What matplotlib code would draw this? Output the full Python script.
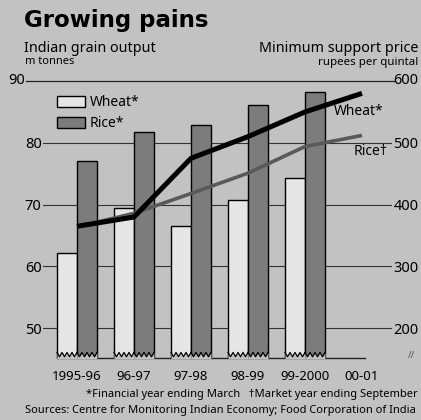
import numpy as np
import matplotlib.pyplot as plt

plt.rcParams['font.family'] = ['Noto Sans', 'DejaVu Sans']

years = ["1995-96", "96-97", "97-98", "98-99", "99-2000", "00-01"]
# grain output, m tonnes (no bars for 00-01)
wheat_output = [62.2, 69.5, 66.5, 70.8, 74.3]
rice_output = [77.0, 81.8, 82.9, 86.1, 88.3]
# minimum support price, rupees per quintal
wheat_price = [365, 380, 475, 510, 550, 580]
rice_price = [364, 386, 418, 451, 494, 512]

BG = "#c2c2c2"
WHEAT_BAR = "#e6e6e6"
RICE_BAR = "#7c7c7c"
Y_MIN = 45.2


def price_to_output(p):
    # right axis: 600 <-> 90, 200 <-> 50
    return (np.asarray(p, dtype=float) + 300) / 10.0


fig = plt.figure(figsize=(4.21, 4.20), dpi=100)
fig.patch.set_facecolor(BG)
W, H = 421, 420
ax = fig.add_axes([43 / W, 1 - 358 / H, (392 - 43) / W, (358 - 81) / H])
ax.set_facecolor(BG)
for s in ax.spines.values():
    s.set_visible(False)

x = np.arange(len(years))
bw = 0.35
ax.set_xlim(-0.596, 5.526)
ax.set_ylim(Y_MIN, 90)

for yv in [50, 60, 70, 80]:
    ax.axhline(yv, color="#333333", lw=0.8, zorder=1)
ax.axhline(90, xmin=-0.05, xmax=1.01, color="#222222", lw=0.9, zorder=1, clip_on=False)

nb = len(wheat_output)
wb = ax.bar(x[:nb] - bw / 2, np.array(wheat_output) - Y_MIN, bw, bottom=Y_MIN,
            color=WHEAT_BAR, edgecolor="black", lw=1.0, zorder=2, label="Wheat*")
rb = ax.bar(x[:nb] + bw / 2, np.array(rice_output) - Y_MIN, bw, bottom=Y_MIN,
            color=RICE_BAR, edgecolor="black", lw=1.0, zorder=2, label="Rice*")

# baseline and zigzag bar bottoms
ax.plot([x[0] - bw, x[-1] + 0.05], [Y_MIN, Y_MIN], color="#222222", lw=1.0,
        zorder=3, clip_on=False)
for xc in np.concatenate([x[:nb] - bw / 2, x[:nb] + bw / 2]):
    zx = np.linspace(xc - bw / 2, xc + bw / 2, 9)
    zy = Y_MIN + np.where(np.arange(9) % 2 == 0, 0.9, 0.2)
    ax.fill_between(zx, Y_MIN - 0.1, zy, color=BG, zorder=3, lw=0, clip_on=False)
    ax.plot(zx, zy, color="black", lw=0.9, zorder=3, clip_on=False)

ax.plot(x, price_to_output(rice_price), color="#5a5a5a", lw=2.6, zorder=4,
        solid_capstyle="butt")
ax.plot(x, price_to_output(wheat_price), color="black", lw=3.6, zorder=5,
        solid_capstyle="butt")

ax.text(4.5, price_to_output(550), "Wheat*", fontsize=10, ha="left", va="center", zorder=6)
ax.text(4.86, price_to_output(486), "Rice†", fontsize=10, ha="left", va="center", zorder=6)

ax.legend(handles=[wb, rb], loc="upper left", bbox_to_anchor=(0.024, 0.969),
          frameon=False, fontsize=10, handlelength=2.0, handleheight=0.86,
          handletextpad=0.36, labelspacing=0.45, borderaxespad=0)

ax.set_xticks(x)
ax.set_xticklabels(years, fontsize=9.5)
ax.tick_params(axis="x", length=0, pad=9)
ax.set_yticks([50, 60, 70, 80])
ax.set_yticklabels(["50", "60", "70", "80"], fontsize=10.5)
ax.tick_params(axis="y", length=0, pad=1)

ax2 = ax.twinx()
for s in ax2.spines.values():
    s.set_visible(False)
ax2.set_ylim(200 - (50 - Y_MIN) * 10, 600)
ax2.set_yticks([200, 300, 400, 500])
ax2.set_yticklabels(["200", "300", "400", "500"], fontsize=10.5)
ax2.tick_params(axis="y", length=0, pad=1)

fig.text(8 / W, 1 - 81 / H, "90", fontsize=10.5, va="center", ha="left")
fig.text(418 / W, 1 - 81 / H, "600", fontsize=10.5, va="center", ha="right")

fig.text(24 / W, 1 - 20 / H, "Growing pains", fontsize=16.5, fontweight="bold",
         family="DejaVu Sans", va="center", ha="left")
fig.text(24 / W, 1 - 49 / H, "Indian grain output", fontsize=10.3, va="center")
fig.text(25 / W, 1 - 62 / H, "m tonnes", fontsize=8, va="center")
fig.text(418 / W, 1 - 49 / H, "Minimum support price", fontsize=10.3,
         va="center", ha="right")
fig.text(418 / W, 1 - 62 / H, "rupees per quintal", fontsize=8.3,
         va="center", ha="right")
fig.text(412 / W, 1 - 355 / H, "//", fontsize=7, color="#555555",
         va="center", ha="center")

fig.text(418 / W, 1 - 395 / H,
         "*Financial year ending March   †Market year ending September",
         fontsize=8, va="center", ha="right")
fig.text(25 / W, 1 - 410 / H,
         "Sources: Centre for Monitoring Indian Economy; Food Corporation of India",
         fontsize=8, va="center", ha="left")

fig.savefig("out.png", dpi=100, facecolor=BG)
